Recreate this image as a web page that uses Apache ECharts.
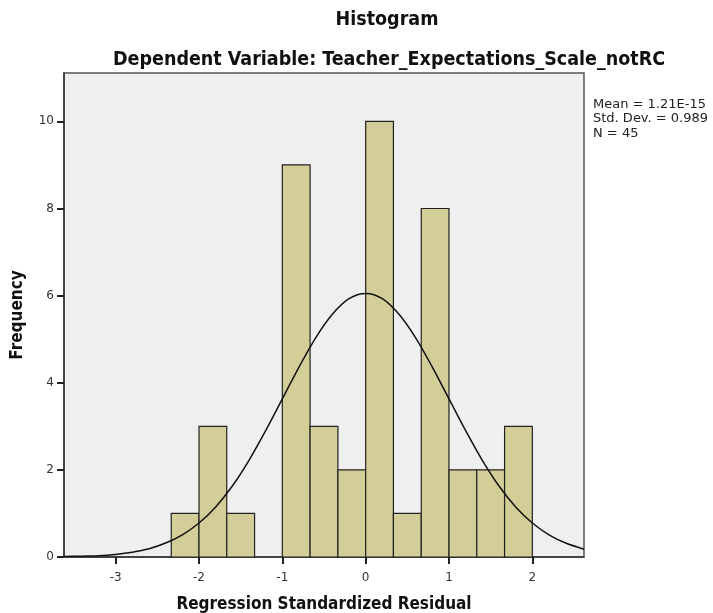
<!DOCTYPE html>
<html>
<head>
<meta charset="utf-8">
<script src="https://cdn.jsdelivr.net/npm/echarts@6/dist/echarts.min.js"></script>
<style>
  html, body { margin: 0; padding: 0; background: #fff; }
  #histChart { width: 713px; height: 613px; }
</style>
</head>
<body>
<div id="histChart"></div>
<script>
// bin edges (width 1/3) and the frequency in each bin
var binEdges = [-2.333, -2, -1.667, -1.333, -1, -0.667, -0.333, 0, 0.333, 0.667, 1, 1.333, 1.667, 2];
var binCounts = [1, 3, 1, 0, 9, 3, 2, 10, 1, 8, 2, 2, 3];

// normal curve
var curveX = [-3.62, -3.4, -3.2, -3.0, -2.8, -2.6, -2.4, -2.2, -2.0, -1.8, -1.6, -1.4, -1.2, -1.0, -0.8, -0.6, -0.4, -0.2,
  0, 0.2, 0.4, 0.6, 0.8, 1.0, 1.2, 1.4, 1.6, 1.8, 2.0, 2.2, 2.4, 2.62];
var curveY = [0.01, 0.02, 0.03, 0.06, 0.11, 0.19, 0.32, 0.51, 0.78, 1.15, 1.63, 2.22, 2.90, 3.63, 4.36, 5.03, 5.57, 5.93,
  6.05, 5.93, 5.57, 5.03, 4.36, 3.63, 2.90, 2.22, 1.63, 1.15, 0.78, 0.51, 0.32, 0.18];

var xTicks = [-3, -2, -1, 0, 1, 2];
var yTicks = [0, 2, 4, 6, 8, 10];
var statLines = ['Mean = 1.21E-15', 'Std. Dev. = 0.989', 'N = 45'];

initHistogram();

function initHistogram() {
  var dom = document.getElementById('histChart');
  var myChart = echarts.init(dom);
  var bold = 'DejaVu Sans Condensed';
  var plain = 'DejaVu Sans';

  var barData = [];
  for (var i = 0; i < binCounts.length; i++) {
    barData.push([binEdges[i], binEdges[i + 1], binCounts[i]]);
  }
  var lineData = [];
  for (var j = 0; j < curveX.length; j++) {
    lineData.push([curveX[j], curveY[j]]);
  }

  var option = {
    backgroundColor: '#fff',
    animation: false,
    title: [
      {
        text: 'Histogram',
        left: 382, top: 5, textAlign: 'center',
        textStyle: {fontFamily: bold, fontSize: 19.5, fontWeight: 'bold', color: '#111'}
      },
      {
        text: 'Dependent Variable: Teacher_Expectations_Scale_notRC',
        left: 384, top: 45, textAlign: 'center',
        textStyle: {fontFamily: bold, fontSize: 19.5, fontWeight: 'bold', color: '#111'}
      }
    ],
    graphic: [
      {
        type: 'text', left: 593, top: 97,
        style: {
          text: statLines.join('\n'),
          font: '13px "' + plain + '"',
          lineHeight: 14.5,
          fill: '#222'
        }
      }
    ],
    grid: {left: 64, right: 129, top: 73, bottom: 56, show: true, outerBoundsMode: 'none',
      backgroundColor: '#efefef', borderColor: '#555', borderWidth: 1.5},
    xAxis: {
      type: 'value', min: -3.62, max: 2.62,
      name: 'Regression Standardized Residual', nameLocation: 'middle', nameGap: 39,
      nameTextStyle: {fontFamily: bold, fontSize: 17, fontWeight: 'bold', color: '#111'},
      axisLine: {show: true, onZero: false, lineStyle: {color: '#333', width: 1.5}},
      axisTick: {show: true, length: 7, lineStyle: {color: '#222', width: 2},
        customValues: xTicks},
      axisLabel: {fontFamily: plain, fontSize: 12, color: '#333', margin: 15,
        customValues: xTicks},
      splitLine: {show: false}
    },
    yAxis: {
      type: 'value', min: 0, max: 11.11,
      name: 'Frequency', nameLocation: 'middle', nameGap: 38, nameRotate: 90,
      nameTextStyle: {fontFamily: bold, fontSize: 17, fontWeight: 'bold', color: '#111'},
      axisLine: {show: true, onZero: false, lineStyle: {color: '#333', width: 1.5}},
      axisTick: {show: true, length: 7, lineStyle: {color: '#222', width: 2},
        customValues: yTicks},
      axisLabel: {fontFamily: plain, fontSize: 12, color: '#333', margin: 10,
        customValues: yTicks},
      splitLine: {show: false}
    },
    series: [
      {
        type: 'custom',
        data: barData,
        encode: {x: [0, 1], y: 2},
        renderItem: function (params, api) {
          if (api.value(2) <= 0) return null;
          var p0 = api.coord([api.value(0), 0]);
          var p1 = api.coord([api.value(1), api.value(2)]);
          return {
            type: 'rect',
            shape: {x: p0[0], y: p1[1], width: p1[0] - p0[0], height: p0[1] - p1[1]},
            style: {fill: '#d3ce97', stroke: '#222', lineWidth: 1.2}
          };
        },
        z: 2
      },
      {
        type: 'line',
        data: lineData,
        smooth: 0.3,
        showSymbol: false,
        lineStyle: {color: '#111', width: 1.5},
        z: 3
      }
    ]
  };

  if (option && typeof option === 'object') {
    myChart.setOption(option, true);
  }
}
</script>
</body>
</html>
